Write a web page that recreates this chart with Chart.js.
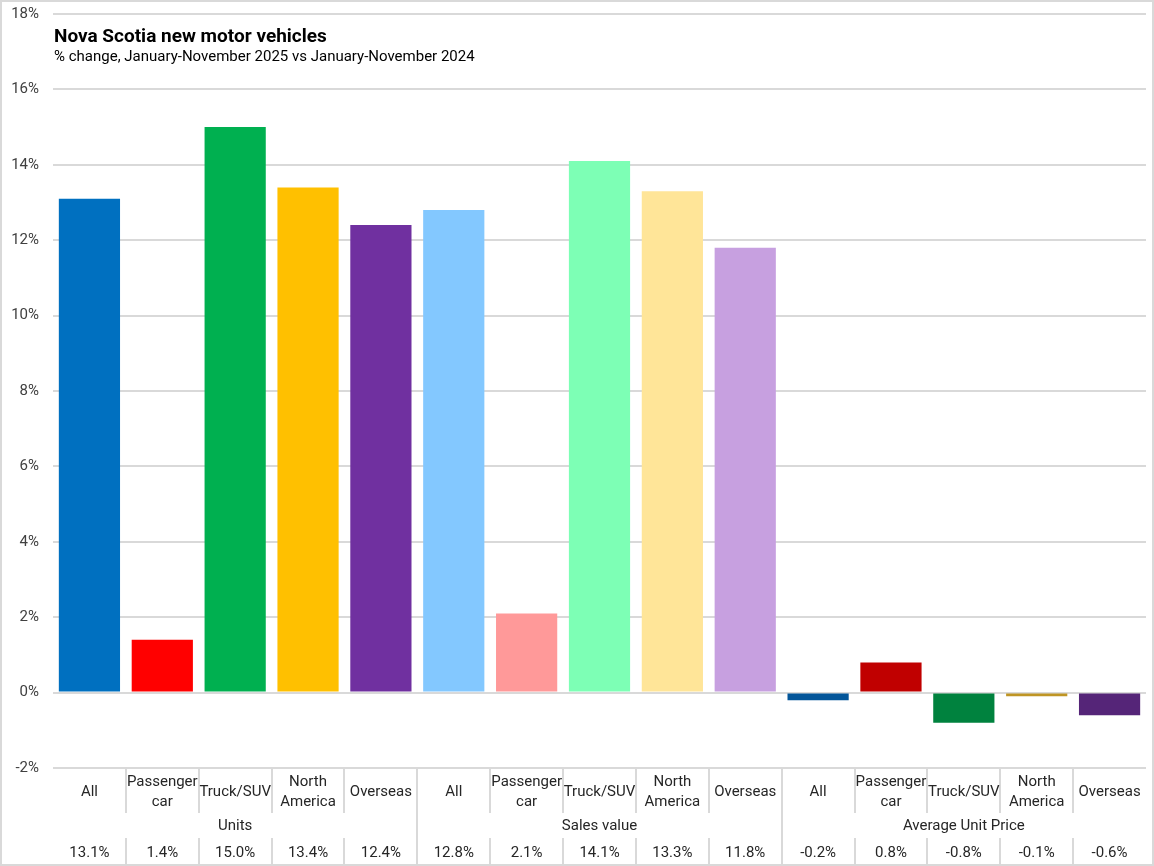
<!DOCTYPE html>
<html>
<head>
<meta charset="utf-8">
<script src="https://cdn.jsdelivr.net/npm/chart.js@4/dist/chart.umd.min.js"></script>
<style>
  body { margin: 0; background: #fff; }
  canvas { display: block; }
</style>
</head>
<body>
<canvas id="chart" width="1154" height="866"></canvas>
<script>
// categories inside each group (line breaks as in the table)
var categories = [['All'], ['Passenger', 'car'], ['Truck/SUV'], ['North', 'America'], ['Overseas']];
var groups = ['Units', 'Sales value', 'Average Unit Price'];

// % change, Jan-Nov 2025 vs Jan-Nov 2024
var unitsValues = [13.1, 1.4, 15.0, 13.4, 12.4];
var salesValues = [12.8, 2.1, 14.1, 13.3, 11.8];
var priceValues = [-0.2, 0.8, -0.8, -0.1, -0.6];

var yTicks = [-2, 0, 2, 4, 6, 8, 10, 12, 14, 16, 18];

var unitsColors = ['#0070C0', '#FF0000', '#00B050', '#FFC000', '#7030A0'];
var salesColors = ['#83C8FF', '#FF9999', '#7DFFB5', '#FFE598', '#C7A0E0'];
var priceColors = ['#03569A', '#C00000', '#00823E', '#BF9524', '#552578'];

var labels = [], values = [], colors = [];
[unitsValues, salesValues, priceValues].forEach(function(vals, g) {
    vals.forEach(function(v, i) {
        labels.push(groups[g] + ' ' + categories[i].join(' '));
        values.push(v);
    });
});
colors = unitsColors.concat(salesColors, priceColors);

var font = "Roboto, 'Liberation Sans', sans-serif";
var gridColor = '#d9d9d9';

// draws title, the table below the plot and the outer frame
var tablePlugin = {
    id: 'table',
    beforeDraw: function(chart) {
        var ctx = chart.ctx;
        ctx.save();
        ctx.fillStyle = '#fff';
        ctx.fillRect(0, 0, chart.width, chart.height);
        ctx.restore();
    },
    afterDraw: function(chart) {
        var ctx = chart.ctx, area = chart.chartArea, x = chart.scales.x;
        var n = values.length, per = categories.length;
        var step = x.getPixelForValue(1) - x.getPixelForValue(0);
        var top = area.bottom;
        var catBottom = top + 45, valTop = top + 70, bottom = chart.height - 2;

        ctx.save();
        ctx.strokeStyle = gridColor;
        ctx.lineWidth = 2;
        for (var i = 1; i < n; i++) {
            var bx = Math.round(x.getPixelForValue(i) - step / 2);
            ctx.beginPath();
            if (i % per === 0) {
                ctx.moveTo(bx, top); ctx.lineTo(bx, bottom);
            } else {
                ctx.moveTo(bx, top); ctx.lineTo(bx, catBottom);
                ctx.moveTo(bx, valTop); ctx.lineTo(bx, bottom);
            }
            ctx.stroke();
        }

        ctx.fillStyle = '#262626';
        ctx.textAlign = 'center';
        ctx.textBaseline = 'middle';
        ctx.font = '15px ' + font;
        for (var j = 0; j < n; j++) {
            var cx = x.getPixelForValue(j);
            var lines = categories[j % per];
            if (lines.length === 1) {
                ctx.fillText(lines[0], cx, top + 24);
            } else {
                ctx.fillText(lines[0], cx, top + 14);
                ctx.fillText(lines[1], cx, top + 34);
            }
            ctx.fillText(values[j].toFixed(1) + '%', cx, top + 85);
        }
        for (var g = 0; g < groups.length; g++) {
            var mid = (x.getPixelForValue(g * per) + x.getPixelForValue(g * per + per - 1)) / 2;
            ctx.fillText(groups[g], mid, top + 58);
        }

        // title block over the plot
        ctx.textAlign = 'left';
        ctx.textBaseline = 'alphabetic';
        ctx.fillStyle = '#000';
        ctx.font = 'bold 19px ' + font;
        ctx.fillText('Nova Scotia new motor vehicles', area.left + 1, 42);
        ctx.font = '15px ' + font;
        ctx.fillText('% change, January-November 2025 vs January-November 2024', area.left + 1, 61);

        // outer frame
        ctx.strokeStyle = gridColor;
        ctx.lineWidth = 2;
        ctx.strokeRect(1, 1, chart.width - 2, chart.height - 2);
        ctx.restore();
    }
};

new Chart(document.getElementById('chart'), {
    type: 'bar',
    data: {
        labels: labels,
        datasets: [{
            data: values,
            backgroundColor: colors,
            borderWidth: 0,
            barPercentage: 0.84,
            categoryPercentage: 1
        }]
    },
    options: {
        responsive: false,
        animation: false,
        layout: { padding: { top: 14, right: 8, bottom: 98, left: 0 } },
        plugins: {
            legend: { display: false },
            tooltip: { enabled: false }
        },
        scales: {
            x: {
                display: false
            },
            y: {
                min: -2,
                max: 18,
                afterFit: function(s) {
                    s.width = 53;
                    s.paddingTop = 0;
                    s.paddingBottom = 0;
                },
                afterBuildTicks: function(s) {
                    s.ticks = yTicks.map(function(v) { return { value: v }; });
                },
                border: { display: false },
                grid: { color: gridColor, lineWidth: 2, drawTicks: false },
                ticks: {
                    padding: 14,
                    color: '#404040',
                    font: { family: font, size: 15 },
                    callback: function(v) { return v + '%'; }
                }
            }
        }
    },
    plugins: [tablePlugin]
});
</script>
</body>
</html>
